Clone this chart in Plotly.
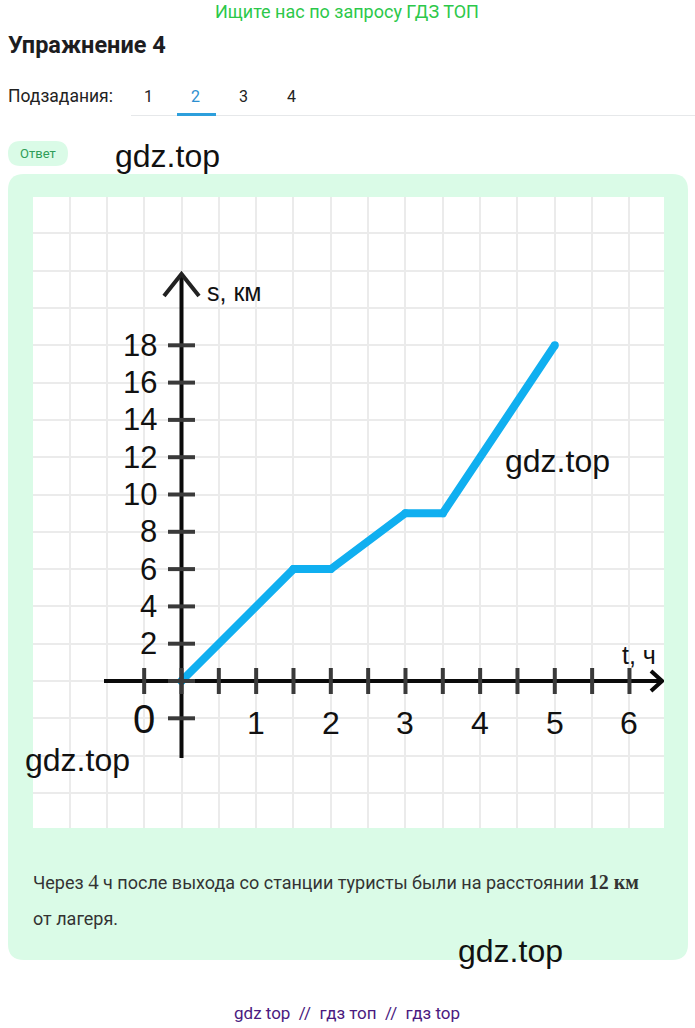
import plotly.graph_objects as go

# ---------------- data ----------------
t_hours = [0, 1.5, 2, 3, 3.5, 5]
s_km = [0, 6, 6, 9, 9, 18]

x_tick_labels = [1, 2, 3, 4, 5, 6]
y_tick_labels = [2, 4, 6, 8, 10, 12, 14, 16, 18]
x_tick_marks = [-0.5, 0, 0.5, 1, 1.5, 2, 2.5, 3, 3.5, 4, 4.5, 5, 5.5, 6]
y_tick_marks = [-2, 0, 2, 4, 6, 8, 10, 12, 14, 16, 18]
origin_label = "0"
x_title = "t, ч"
y_title = "s, км"

header_text = "Ищите нас по запросу ГДЗ ТОП"
title_text = "Упражнение 4"
subtasks_label = "Подзадания:"
tabs = ["1", "2", "3", "4"]
active_tab = "2"
badge_text = "Ответ"
answer_line1 = ("Через <span style='font-family:Liberation Serif;font-size:21px'>4</span> ч после выхода со станции "
                "туристы были на расстоянии <b><span style='font-family:Liberation Serif;font-size:20px'>12 км</span></b>")
answer_line2 = "от лагеря."
footer_text = "gdz top  //  гдз топ  //  гдз top"
watermark = "gdz.top"

# ---------------- geometry helpers ----------------
W, H = 695, 1028


def X(px):
    return px / W


def Y(py):
    return 1 - py / H


# chart pixel mapping: t = (px - 181.5) / 74.66 ; s = (681 - py) / 18.65
def T(px):
    return (px - 181.5) / 74.66


def S(py):
    return (681 - py) / 18.65


fig = go.Figure()

fig.add_trace(go.Scatter(
    x=t_hours, y=s_km, mode="lines+markers",
    line=dict(color="#10aff0", width=8),
    marker=dict(size=8, color="#10aff0"),
    hoverinfo="skip", showlegend=False,
))

shapes = []


def rounded_rect(x0, y0, x1, y1, r):
    rx, ry = r / W, r / H
    a, b, c, d = X(x0), Y(y0), X(x1), Y(y1)
    return (f"M {a+rx},{b} L {c-rx},{b} Q {c},{b} {c},{b-ry} L {c},{d+ry} Q {c},{d} {c-rx},{d} "
            f"L {a+rx},{d} Q {a},{d} {a},{d+ry} L {a},{b-ry} Q {a},{b} {a+rx},{b} Z")


# green card
shapes.append(dict(type="path", xref="paper", yref="paper", layer="below",
                   path=rounded_rect(8, 174, 688, 960, 16),
                   fillcolor="#dafbe7", line=dict(width=0)))
# white chart panel
shapes.append(dict(type="rect", xref="paper", yref="paper", layer="below",
                   x0=X(33), x1=X(664), y0=Y(828), y1=Y(197),
                   fillcolor="white", line=dict(width=0)))
# badge
shapes.append(dict(type="path", xref="paper", yref="paper", layer="below",
                   path=rounded_rect(8, 141, 68, 166, 12.5),
                   fillcolor="#dafbe7", line=dict(width=0)))
# tabs divider and underline
shapes.append(dict(type="line", xref="paper", yref="paper", x0=X(131), x1=X(695), y0=Y(115.5), y1=Y(115.5),
                   line=dict(color="#e6e8ea", width=1)))
shapes.append(dict(type="line", xref="paper", yref="paper", x0=X(177), x1=X(216), y0=Y(114.5), y1=Y(114.5),
                   line=dict(color="#2d9fdc", width=3)))

AX = "#0a0a0a"
TK = "#3a3a3a"
# y axis
shapes.append(dict(type="line", xref="x", yref="y", layer="above", x0=0, x1=0, y0=S(758), y1=S(274),
                   line=dict(color=AX, width=4)))
shapes.append(dict(type="path", xref="x", yref="y", layer="above",
                   path=f"M {T(164)},{S(296)} L 0,{S(274)} L {T(199)},{S(296)}",
                   line=dict(color="#222", width=4)))
# x axis
shapes.append(dict(type="line", xref="x", yref="y", layer="above", x0=T(104), x1=T(662), y0=0, y1=0,
                   line=dict(color=AX, width=4)))
shapes.append(dict(type="path", xref="x", yref="y", layer="above",
                   path=f"M {T(651)},{S(671)} L {T(662)},0 L {T(651)},{S(691)}",
                   line=dict(color=AX, width=4)))
for v in x_tick_marks:
    shapes.append(dict(type="line", xref="x", yref="y", layer="above", x0=v, x1=v, y0=S(694), y1=S(668),
                       line=dict(color=TK, width=4)))
for v in y_tick_marks:
    shapes.append(dict(type="line", xref="x", yref="y", layer="above", x0=T(168), x1=T(195), y0=v, y1=v,
                       line=dict(color=TK, width=4)))

ann = []
NUMF = "Liberation Sans, Arial, sans-serif"
for v in y_tick_labels:
    ann.append(dict(x=T(159), y=v, xref="x", yref="y", text=str(v), showarrow=False,
                    xanchor="right", yanchor="middle", font=dict(family=NUMF, size=31, color="#111")))
for v in x_tick_labels:
    ann.append(dict(x=v, y=S(723), xref="x", yref="y", text=str(v), showarrow=False,
                    xanchor="center", yanchor="middle", font=dict(family=NUMF, size=32, color="#111")))
ann.append(dict(x=T(144), y=S(719), xref="x", yref="y", text=origin_label, showarrow=False,
                xanchor="center", yanchor="middle", font=dict(family=NUMF, size=40, color="#111")))
ann.append(dict(x=T(205), y=S(292), xref="x", yref="y", text=y_title, showarrow=False,
                xanchor="left", yanchor="middle", font=dict(family=NUMF, size=25, color="#111")))
ann.append(dict(x=T(639), y=S(655), xref="x", yref="y", text=x_title, showarrow=False,
                xanchor="center", yanchor="middle", font=dict(family=NUMF, size=25, color="#111")))

UI = "Roboto, Inter, sans-serif"
ann.append(dict(x=X(347), y=Y(12), xref="paper", yref="paper", text=header_text, showarrow=False,
                xanchor="center", yanchor="middle", font=dict(family=UI, size=18, color="#2cc84a")))
ann.append(dict(x=X(6), y=Y(45), xref="paper", yref="paper", text=f"<b>{title_text}</b>", showarrow=False,
                xanchor="left", yanchor="middle", font=dict(family=UI, size=23.5, color="#1d1d1f")))
ann.append(dict(x=X(6), y=Y(96), xref="paper", yref="paper", text=subtasks_label, showarrow=False,
                xanchor="left", yanchor="middle", font=dict(family=UI, size=17.5, color="#222")))
for i, tb in enumerate(tabs):
    ann.append(dict(x=X(148 + i * 47.7), y=Y(96), xref="paper", yref="paper", text=tb, showarrow=False,
                    xanchor="center", yanchor="middle",
                    font=dict(family=UI, size=16, color="#2d8fd0" if tb == active_tab else "#222")))
ann.append(dict(x=X(38), y=Y(153.5), xref="paper", yref="paper", text=badge_text, showarrow=False,
                xanchor="center", yanchor="middle", font=dict(family=UI, size=13, color="#2f9d58")))
ann.append(dict(x=X(31), y=Y(882), xref="paper", yref="paper", text=answer_line1, showarrow=False,
                xanchor="left", yanchor="middle", font=dict(family=UI, size=18, color="#333")))
ann.append(dict(x=X(31), y=Y(918), xref="paper", yref="paper", text=answer_line2, showarrow=False,
                xanchor="left", yanchor="middle", font=dict(family=UI, size=18, color="#333")))
ann.append(dict(x=X(347), y=Y(1013), xref="paper", yref="paper", text=footer_text, showarrow=False,
                xanchor="center", yanchor="middle", font=dict(family=UI, size=17, color="#4a1a80")))

WMF = "Liberation Sans, Arial, sans-serif"
for (wx, wy) in [(113, 156), (503, 461), (23, 760), (456, 951)]:
    ann.append(dict(x=X(wx), y=Y(wy), xref="paper", yref="paper", text=watermark, showarrow=False,
                    xanchor="left", yanchor="middle", font=dict(family=WMF, size=32, color="#111")))

fig.update_layout(
    width=W, height=H, autosize=False,
    margin=dict(l=0, r=0, t=0, b=0, pad=0),
    paper_bgcolor="white", plot_bgcolor="rgba(0,0,0,0)",
    showlegend=False,
    shapes=shapes, annotations=ann,
    xaxis=dict(domain=[X(33), X(664)], range=[T(33), T(664)], dtick=0.5, tick0=0,
               showgrid=True, gridcolor="#ebebeb", gridwidth=2, zeroline=False,
               showline=False, showticklabels=False, ticks="", fixedrange=True),
    yaxis=dict(domain=[Y(828), Y(197)], range=[S(828), S(197)], dtick=2, tick0=0,
               showgrid=True, gridcolor="#ebebeb", gridwidth=2, zeroline=False,
               showline=False, showticklabels=False, ticks="", fixedrange=True),
)

fig.write_html("out.html", config={"displayModeBar": False},
               post_script="document.body.style.margin='0';document.body.style.padding='0';"
                           "document.documentElement.style.overflow='hidden';")
